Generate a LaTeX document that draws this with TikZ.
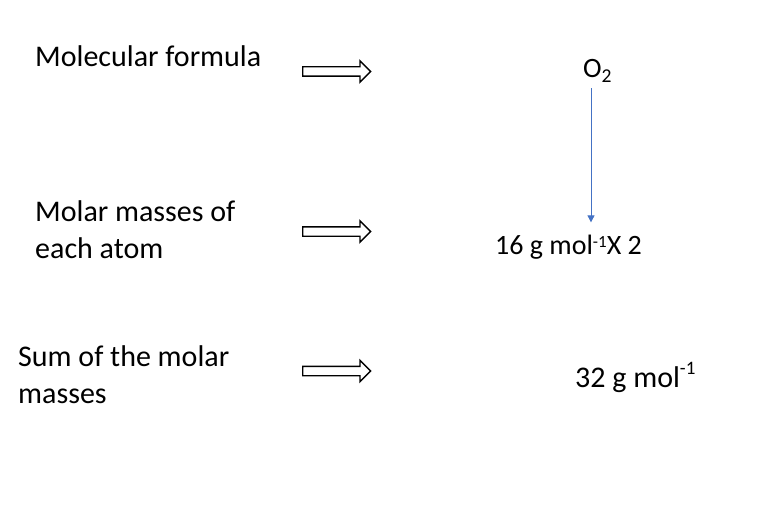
\documentclass[tikz,border=0pt]{standalone}
\usepackage{fontspec}
\setmainfont{Carlito}
\usetikzlibrary{positioning,shapes.arrows,arrows.meta}
\definecolor{flowblue}{RGB}{68,114,196}
\newcommand{\supraise}[3]{\raisebox{#1}{\fontsize{#2}{#2}\selectfont #3}}
\tikzstyle{term}=[anchor=base west, inner sep=0pt, align=left,
        font=\fontsize{30}{36.5}\selectfont]
\tikzstyle{quantity}=[anchor=base west, inner sep=0pt,
        font=\fontsize{28}{34}\selectfont]
\tikzstyle{hollow}=[single arrow, draw=black, line width=1.4pt, fill=white,
        minimum height=68pt, single arrow head extend=6pt, inner xsep=0pt,
        inner ysep=4pt, text height=0pt, text depth=0pt, anchor=west]
\tikzstyle{flow}=[draw=flowblue, line width=0.8pt, -{Triangle[width=7pt,length=7pt]}]

\begin{document}
\begin{tikzpicture}[x=1pt, y=-1pt]
        \useasboundingbox (0,0) rectangle (776,516);
        % left column
        \node (formula) [term] at (35,67) {Molecular formula};
        \node (atoms) [term] at (35,258) {Molar masses of\\each atom};
        \node (sum) [term] at (18,403) {Sum of the molar\\masses};
        % hollow arrows
        \node (arrowA) [hollow] at (302,71.5) {};
        \node (arrowB) [hollow] at (302,231.5) {};
        \node (arrowC) [hollow] at (302,371) {};
        % right column
        \node (oxygen) [quantity] at (583,78) {O\textsubscript{2}};
        \node (mass) [quantity] at (495,254) {16 g mol\supraise{7pt}{17}{-1}X 2};
        \node (total) [quantity, font=\fontsize{30}{36}\selectfont] at (575,387)
          {32 g mol\supraise{13pt}{19}{-1}};
        \draw[flow, shorten >=12pt] ([xshift=8pt,yshift=-6pt]oxygen.south west)
          -- ([xshift=8pt]oxygen.south west |- mass.north);
\end{tikzpicture}
\end{document}
